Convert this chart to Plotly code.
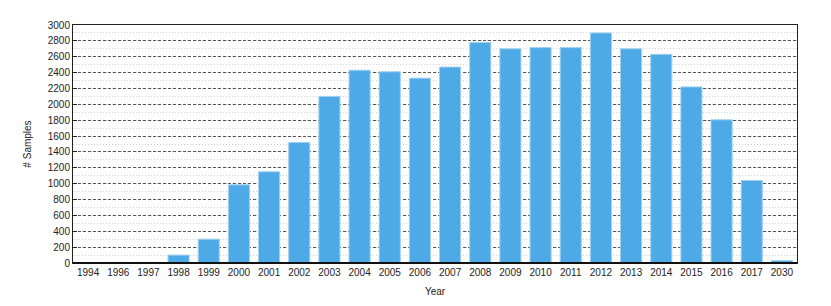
import plotly.graph_objects as go

years = ["1994", "1996", "1997", "1998", "1999", "2000", "2001", "2002", "2003", "2004",
         "2005", "2006", "2007", "2008", "2009", "2010", "2011", "2012", "2013", "2014",
         "2015", "2016", "2017", "2030"]
samples = [1, 8, 8, 100, 300, 985, 1150, 1520, 2100, 2430,
           2410, 2330, 2470, 2780, 2700, 2715, 2715, 2900, 2700, 2630,
           2220, 1805, 1040, 30]
y_ticks = list(range(0, 3001, 200))

fig = go.Figure(go.Bar(
    x=years, y=samples,
    marker=dict(color="#4DAAE7", line=dict(color="#9FD0F2", width=1)),
))

fig.update_layout(
    width=823, height=298,
    margin=dict(l=65, r=34, t=11, b=43),
    paper_bgcolor="white", plot_bgcolor="white",
    bargap=0.3,
    showlegend=False,
    font=dict(family="Liberation Sans, Arial, sans-serif", size=10, color="#222"),
)
fig.update_xaxes(
    type="category",
    title=dict(text="Year", font=dict(size=10), standoff=10),
    showline=True, linecolor="#222", linewidth=1, mirror=True,
    showgrid=False, ticks="", tickfont=dict(size=10),
)
fig.update_yaxes(
    title=dict(text="# Samples", font=dict(size=10), standoff=14),
    range=[0, 3000], tickvals=y_ticks,
    showline=True, linecolor="#222", linewidth=1, mirror=True,
    showgrid=True, gridcolor="#555", griddash="3px,2px", gridwidth=1,
    minor=dict(dtick=100, showgrid=True, gridcolor="#cfcfcf", griddash="1px,2px", gridwidth=1),
    ticks="inside", ticklen=4, tickcolor="#222",
    tickfont=dict(size=10),
    zeroline=False,
)
fig.add_shape(type="line", xref="paper", yref="paper", x0=0, x1=1, y0=0, y1=0,
              line=dict(color="#111", width=2))
fig.write_html("out.html")
